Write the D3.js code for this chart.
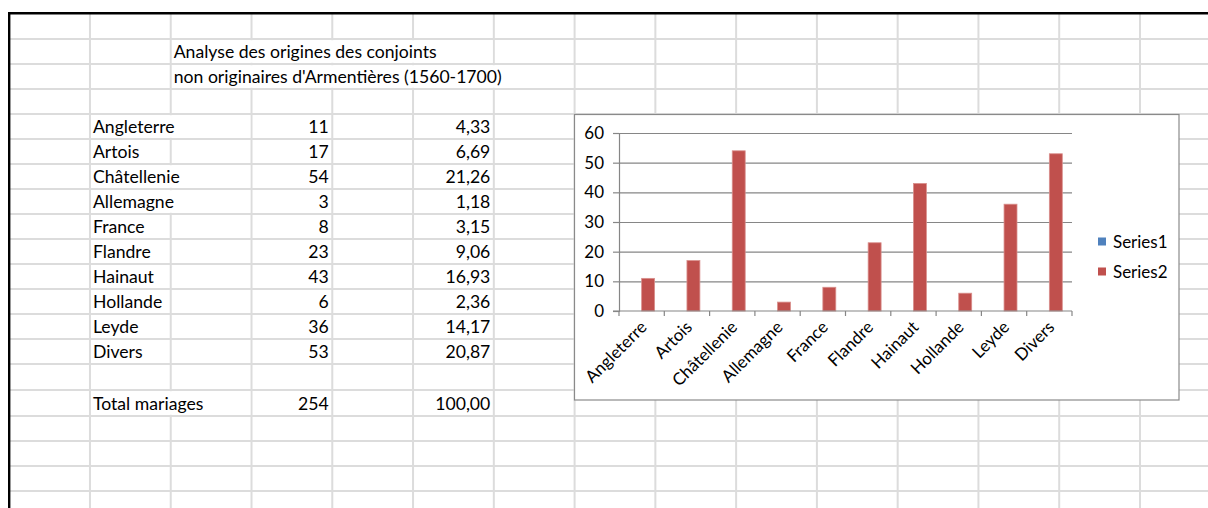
<!DOCTYPE html>
<html><head><meta charset="utf-8">
<script src="https://cdn.jsdelivr.net/npm/d3@7"></script>
<style>body{margin:0;background:#fff;} svg{display:block}</style>
</head><body><svg id="c" width="1208" height="508"></svg>
<script>
// ---- data ----
const categories = ["Angleterre","Artois","Châtellenie","Allemagne","France","Flandre","Hainaut","Hollande","Leyde","Divers"];
const counts = [11,17,54,3,8,23,43,6,36,53];
const percents = ["4,33","6,69","21,26","1,18","3,15","9,06","16,93","2,36","14,17","20,87"];
const titleLines = ["Analyse des origines des conjoints","non originaires d'Armentières (1560-1700)"];
const totalLabel = "Total mariages";
const totalCount = "254";
const totalPercent = "100,00";
const seriesNames = ["Series1","Series2"];
const series1 = [null,null,null,null,null,null,null,null,null,null];
const series2 = [11,17,54,3,8,23,43,6,36,53];
const yTicks = [0,10,20,30,40,50,60];
const seriesColors = ["#4F81BD","#C0504D"];

// ---- layout ----
const svg = d3.select("#c");
const FONT = "Lato, 'Noto Sans', sans-serif";
const colEdge = k => 9.2 + 80.77*k;
const rowEdges = [];
for (let r=0;r<=14;r++) rowEdges.push(14+25*r);
rowEdges.push(390,416,441,466,491,516);

// font size fitting (match reference text width)
const probe = svg.append("text").attr("font-family",FONT).attr("font-size",18).text(titleLines[1]);
const pw = probe.node().getComputedTextLength();
probe.remove();
const sheetFS = 18*328/pw;
const chartFS = sheetFS*16.67/18.33*1.06;

// grid
const grid = svg.append("g");
for (let k=1;k<=14;k++){
  grid.append("line").attr("x1",colEdge(k)).attr("x2",colEdge(k)).attr("y1",14).attr("y2",508)
    .attr("stroke","#dcdcdc").attr("stroke-width",2);
}
rowEdges.slice(1).forEach(y=>{
  grid.append("line").attr("x1",10).attr("x2",1208).attr("y1",y).attr("y2",y)
    .attr("stroke","#dcdcdc").attr("stroke-width",2);
});
// black frame
svg.append("line").attr("x1",8).attr("x2",1208).attr("y1",13.2).attr("y2",13.2).attr("stroke","#000").attr("stroke-width",2.4);
svg.append("line").attr("x1",9.2).attr("x2",9.2).attr("y1",12).attr("y2",508).attr("stroke","#000").attr("stroke-width",2.4);

const cover = svg.append("g");
const texts = svg.append("g").attr("font-family",FONT).attr("font-size",sheetFS).attr("fill","#000");
function cell(row,col,txt,align){
  const right = align==="right";
  const x = right ? colEdge(col+1)-3.5 : colEdge(col)+3;
  const t = texts.append("text").attr("x",x).attr("y",rowEdges[row+1]-6)
    .attr("text-anchor",right?"end":"start").text(txt);
  if(!right){
    const end = x + t.node().getComputedTextLength();
    let j = col+1;
    while(colEdge(j) < end) j++;
    if (j > col+1){
      cover.append("rect").attr("x",colEdge(col)+1.2).attr("width",colEdge(j)-colEdge(col)-2.4)
        .attr("y",rowEdges[row]+1.2).attr("height",rowEdges[row+1]-rowEdges[row]-2.4).attr("fill","#fff");
    }
  }
}
cell(1,2,titleLines[0],"left");
cell(2,2,titleLines[1],"left");
categories.forEach((c,i)=>{
  cell(4+i,1,c,"left");
  cell(4+i,3,String(counts[i]),"right");
  cell(4+i,5,percents[i],"right");
});
cell(15,1,totalLabel,"left");
cell(15,3,totalCount,"right");
cell(15,5,totalPercent,"right");

// ---- chart ----
const ch = svg.append("g").attr("font-family",FONT).attr("font-size",chartFS);
ch.append("rect").attr("x",574.5).attr("y",114.5).attr("width",604.5).attr("height",285.5)
  .attr("fill","#fff").attr("stroke","#8a8a8a").attr("stroke-width",1.2);

const X0=619, X1=1072, Y0=311, Y1=133;
const y = d3.scaleLinear().domain([0,60]).range([Y0,Y1]);
const xb = d3.scaleBand().domain(categories).range([X0,X1]);
const x = d3.scaleBand().domain(categories).range([X0,X1]).paddingInner(3/7).paddingOuter(3/14);
const xs = d3.scaleBand().domain(seriesNames).range([0,x.bandwidth()]);

// gridlines
ch.append("g").attr("transform",`translate(${X0},0)`)
  .call(d3.axisLeft(y).tickValues(yTicks.slice(1)).tickSize(-(X1-X0)).tickFormat(""))
  .call(g=>{g.select(".domain").remove(); g.selectAll("line").attr("stroke","#868686").attr("stroke-width",1.2);});

// bars
const allSeries = [series1, series2];
allSeries.forEach((vals,si)=>{
  ch.append("g").selectAll("rect").data(categories.map((c,i)=>({c,v:vals[i]})).filter(d=>d.v!=null))
    .join("rect")
    .attr("x",d=>x(d.c)+xs(seriesNames[si]))
    .attr("width",xs.bandwidth())
    .attr("y",d=>y(d.v))
    .attr("height",d=>Y0-y(d.v))
    .attr("fill",seriesColors[si])
    .attr("stroke","#d98f8c").attr("stroke-width",0.8);
});

// y axis
ch.append("g").attr("transform",`translate(${X0},0)`)
  .call(d3.axisLeft(y).tickValues(yTicks).tickSize(6).tickPadding(9))
  .call(g=>{
    g.attr("font-family",FONT).attr("font-size",chartFS);
    g.select(".domain").attr("stroke","#868686").attr("stroke-width",1.2);
    g.selectAll("line").attr("stroke","#868686").attr("stroke-width",1.2);
    g.selectAll("text").attr("fill","#000");
  });

// x axis
ch.append("line").attr("x1",X0-6).attr("x2",X1).attr("y1",Y0).attr("y2",Y0).attr("stroke","#868686").attr("stroke-width",1.2);
const bounds = categories.map(c=>xb(c)).concat([X1]);
ch.append("g").selectAll("line").data(bounds).join("line")
  .attr("x1",d=>d).attr("x2",d=>d).attr("y1",Y0).attr("y2",Y0+5)
  .attr("stroke","#868686").attr("stroke-width",1.2);
ch.append("g").selectAll("text").data(categories).join("text")
  .attr("transform",c=>`translate(${xb(c)+xb.bandwidth()/2+2},${Y0+13}) rotate(-45)`)
  .attr("text-anchor","end").attr("dy","0.35em").attr("fill","#000").text(c=>c);

// legend
const lg = ch.append("g");
seriesNames.forEach((s,i)=>{
  lg.append("rect").attr("x",1098).attr("y",237.5+30*i).attr("width",8).attr("height",8).attr("fill",seriesColors[i]);
  lg.append("text").attr("x",1113).attr("y",242+30*i).attr("dy","0.35em").attr("fill","#000").text(s);
});
</script>
</body></html>
